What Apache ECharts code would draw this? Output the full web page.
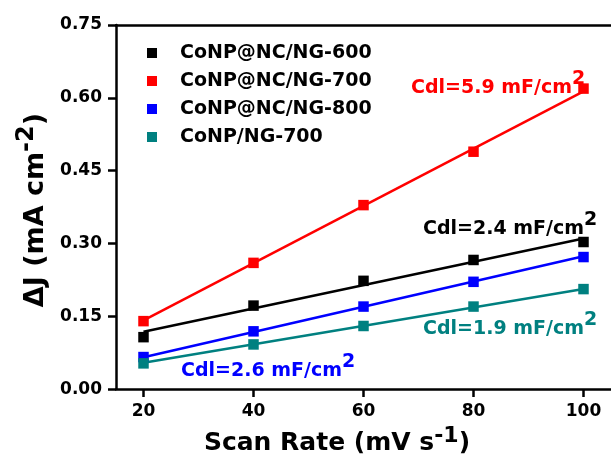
<!DOCTYPE html>
<html>
<head>
<meta charset="utf-8">
<script src="https://cdn.jsdelivr.net/npm/echarts@6/dist/echarts.min.js"></script>
<style>
  html, body { margin: 0; padding: 0; background: #fff; }
  #chart { width: 611px; height: 461px; }
</style>
</head>
<body>
<div id="chart"></div>
<script>
// Scan rates (mV/s) and the measured current-density difference (mA/cm2)
const scanRates = [20, 40, 60, 80, 100];
const sampleNames = ['CoNP@NC/NG-600', 'CoNP@NC/NG-700', 'CoNP@NC/NG-800', 'CoNP/NG-700'];
const dJ600 = [0.107, 0.172, 0.223, 0.266, 0.303];
const dJ700 = [0.140, 0.260, 0.379, 0.489, 0.619];
const dJ800 = [0.066, 0.119, 0.170, 0.221, 0.272];
const dJNG700 = [0.053, 0.092, 0.130, 0.170, 0.206];
// Double-layer capacitance of each sample (mF/cm2) = slope of its fit line
const cdlValues = [2.4, 5.9, 2.6, 1.9];
const xTicks = [20, 40, 60, 80, 100];
const yTicks = [0, 0.15, 0.30, 0.45, 0.60, 0.75];

const colors = ['#000000', '#ff0000', '#0000ff', '#008080'];
const FONT = '"DejaVu Sans", "Liberation Sans", Arial, sans-serif';
const allSeries = [dJ600, dJ700, dJ800, dJNG700];

// Straight fit line through the mean point with slope given by Cdl
function fitLine(values, cdl) {
  const n = values.length;
  const mx = scanRates.reduce((a, b) => a + b, 0) / n;
  const my = values.reduce((a, b) => a + b, 0) / n;
  const k = cdl / 1000;
  const x0 = scanRates[0], x1 = scanRates[n - 1];
  return [[x0, my + k * (x0 - mx)], [x1, my + k * (x1 - mx)]];
}

const series = [];
allSeries.forEach((vals, i) => {
  series.push({
    name: sampleNames[i] + ' fit',
    type: 'line',
    data: fitLine(vals, cdlValues[i]),
    showSymbol: false,
    silent: true,
    z: 2,
    lineStyle: { color: colors[i], width: 2.5 }
  });
});
allSeries.forEach((vals, i) => {
  series.push({
    name: sampleNames[i],
    type: 'scatter',
    data: scanRates.map((x, j) => [x, vals[j]]),
    symbol: 'rect',
    symbolSize: 10.5,
    z: 3,
    itemStyle: { color: colors[i], opacity: 1 }
  });
});

// Cdl annotations: [sample index, left, top]
const notePlaces = [[1, 411, 69.5], [0, 423, 210.5], [3, 423, 311], [2, 181, 353]];
const graphic = notePlaces.map(([i, left, top]) => ({
  type: 'text',
  left: left,
  top: top,
  z: 10,
  style: {
    text: '{m|Cdl=' + cdlValues[i].toFixed(1) + ' mF/cm}{s|2}',
    rich: {
      m: { fontSize: 19, fontWeight: 'bold', fontFamily: FONT, fill: colors[i], lineHeight: 19, verticalAlign: 'bottom' },
      s: { fontSize: 19, fontWeight: 'bold', fontFamily: FONT, fill: colors[i], lineHeight: 28, verticalAlign: 'top' }
    }
  }
}));

const axisFont = { fontFamily: FONT, fontWeight: 'bold', fontSize: 17, color: '#000' };

const option = {
  animation: false,
  backgroundColor: '#fff',
  grid: { left: 116, top: 25, width: 498, height: 367.5 },
  legend: {
    data: sampleNames,
    orient: 'vertical',
    left: 142,
    top: 38,
    itemWidth: 28,
    itemHeight: 10,
    itemGap: 8,
    icon: 'path://M0,0h10v10h-10zM28,5h0',
    selectedMode: false,
    itemStyle: { opacity: 1 },
    textStyle: { fontFamily: FONT, fontWeight: 'bold', fontSize: 19, color: '#000', lineHeight: 20 }
  },
  xAxis: [{
    type: 'value',
    min: 15,
    max: 105,
    name: '{m|Scan Rate (mV s}{s|-1}{m|)}',
    nameLocation: 'middle',
    nameGap: 35,
    nameTextStyle: {
      padding: [0, 53, 0, 0],
      rich: {
        m: { fontFamily: FONT, fontWeight: 'bold', fontSize: 25, color: '#000', lineHeight: 25, verticalAlign: 'bottom' },
        s: { fontFamily: FONT, fontWeight: 'bold', fontSize: 22, color: '#000', lineHeight: 31, verticalAlign: 'top' }
      }
    },
    axisLine: { show: true, onZero: false, lineStyle: { color: '#000', width: 2.5 } },
    axisTick: { show: true, customValues: xTicks, length: 8, lineStyle: { color: '#000', width: 2.5 } },
    axisLabel: Object.assign({ customValues: xTicks, margin: 14 }, axisFont),
    splitLine: { show: false }
  }, {
    type: 'value',
    position: 'top',
    min: 15,
    max: 105,
    axisLine: { show: true, onZero: false, lineStyle: { color: '#000', width: 2.5 } },
    axisTick: { show: false },
    axisLabel: { show: false },
    splitLine: { show: false }
  }],
  yAxis: {
    type: 'value',
    min: yTicks[0],
    max: yTicks[yTicks.length - 1],
    interval: 0.15,
    name: '{m|ΔJ (mA cm}{s|-2}{m|)}',
    nameLocation: 'middle',
    nameGap: 60,
    nameTextStyle: {
      padding: [0, 6, 0, 0],
      rich: {
        m: { fontFamily: FONT, fontWeight: 'bold', fontSize: 27, color: '#000', lineHeight: 27, verticalAlign: 'bottom' },
        s: { fontFamily: FONT, fontWeight: 'bold', fontSize: 24, color: '#000', lineHeight: 34, verticalAlign: 'top' }
      }
    },
    axisLine: { show: true, onZero: false, lineStyle: { color: '#000', width: 2.5 } },
    axisTick: { show: true, length: 8, lineStyle: { color: '#000', width: 2.5 } },
    axisLabel: Object.assign({ margin: 14, formatter: v => v.toFixed(2) }, axisFont),
    splitLine: { show: false }
  },
  graphic: graphic,
  series: series
};

const chart = echarts.init(document.getElementById('chart'), null, { renderer: 'canvas' });
chart.setOption(option);
</script>
</body>
</html>
